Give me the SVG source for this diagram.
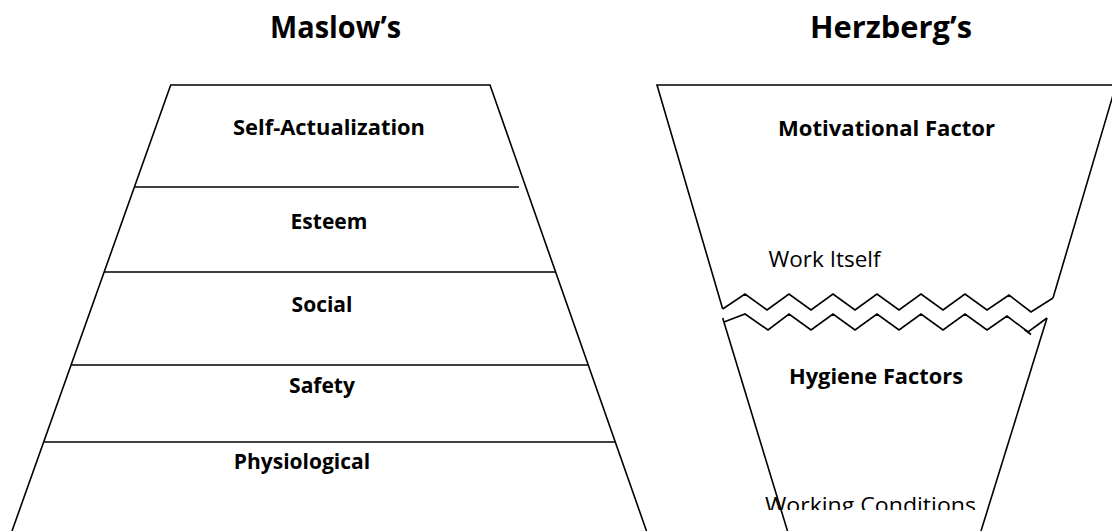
<svg xmlns="http://www.w3.org/2000/svg" width="1112" height="531" viewBox="0 0 1112 531">
<defs>
<style>
.ln{fill:none;stroke:#000;stroke-width:1.6;stroke-linejoin:miter}
.t{font-family:"Open Sans","Liberation Sans",sans-serif;fill:#000;text-anchor:middle}
.b{font-weight:bold}
.ttl{font-family:"Open Sans","Liberation Sans",sans-serif;font-weight:bold;font-size:31px;fill:#000}
</style>
<clipPath id="wc"><rect x="700" y="480" width="340" height="30"/></clipPath>
</defs>
<rect width="1112" height="531" fill="#fff"/>
<g id="titles">
<text class="ttl" x="270" y="38" textLength="131" lengthAdjust="spacingAndGlyphs">Maslow’s</text>
<text class="ttl" x="810" y="38" textLength="162" lengthAdjust="spacingAndGlyphs">Herzberg’s</text>
</g>
<g id="maslow">
<path class="ln" d="M12,531 L170.7,85 L490,85 L646.5,531"/>
<g id="self-actualization">
<text class="t b" x="329" y="135" font-size="21" textLength="192" lengthAdjust="spacingAndGlyphs">Self-Actualization</text>
<line class="ln" x1="134.6" y1="187" x2="519" y2="187"/>
</g>
<g id="esteem">
<text class="t b" x="329" y="229" font-size="21">Esteem</text>
<line class="ln" x1="104.5" y1="272" x2="555.5" y2="272"/>
</g>
<g id="social">
<text class="t b" x="322" y="312" font-size="21">Social</text>
<line class="ln" x1="71.4" y1="365" x2="588.5" y2="365"/>
</g>
<g id="safety">
<text class="t b" x="322" y="393" font-size="21">Safety</text>
<line class="ln" x1="44.2" y1="442" x2="616" y2="442"/>
</g>
<g id="physiological">
<text class="t b" x="302" y="469" font-size="21">Physiological</text>
</g>
</g>
<g id="herzberg">
<g id="motivational">
<path class="ln" d="M722.7,309 L657,85 L1116,85 L1053,298"/>
<text class="t b" x="886.5" y="136" font-size="21" textLength="217" lengthAdjust="spacingAndGlyphs">Motivational Factor</text>
<text class="t" x="824.5" y="267" font-size="22" textLength="112" lengthAdjust="spacingAndGlyphs">Work Itself</text>
</g>
<g id="break">
<polyline class="ln" points="722.7,309 745,294 767,310 789,294 811,310 833,294 855,310 877,294 899,310 921,294 943,310 965,294 987,310 1009,295 1031,312 1053,298"/>
<polyline class="ln" points="724,322 745,314 768,330 789,314 811,330 833,314 855,330 877,314 899,330 921,314 943,330 965,314 987,330 1007,316 1028,332 1047,318"/>
<path class="ln" d="M1024.5,329.5 L1031,334.5" stroke-width="1.2"/>
</g>
<g id="hygiene">
<path class="ln" d="M787.5,531 L722.7,318"/>
<path class="ln" d="M1047,318 L981,531"/>
<text class="t b" x="876" y="384" font-size="21" textLength="174" lengthAdjust="spacingAndGlyphs">Hygiene Factors</text>
<text class="t" x="870.5" y="513" font-size="22" textLength="211" lengthAdjust="spacingAndGlyphs" clip-path="url(#wc)">Working Conditions</text>
</g>
</g>
</svg>
